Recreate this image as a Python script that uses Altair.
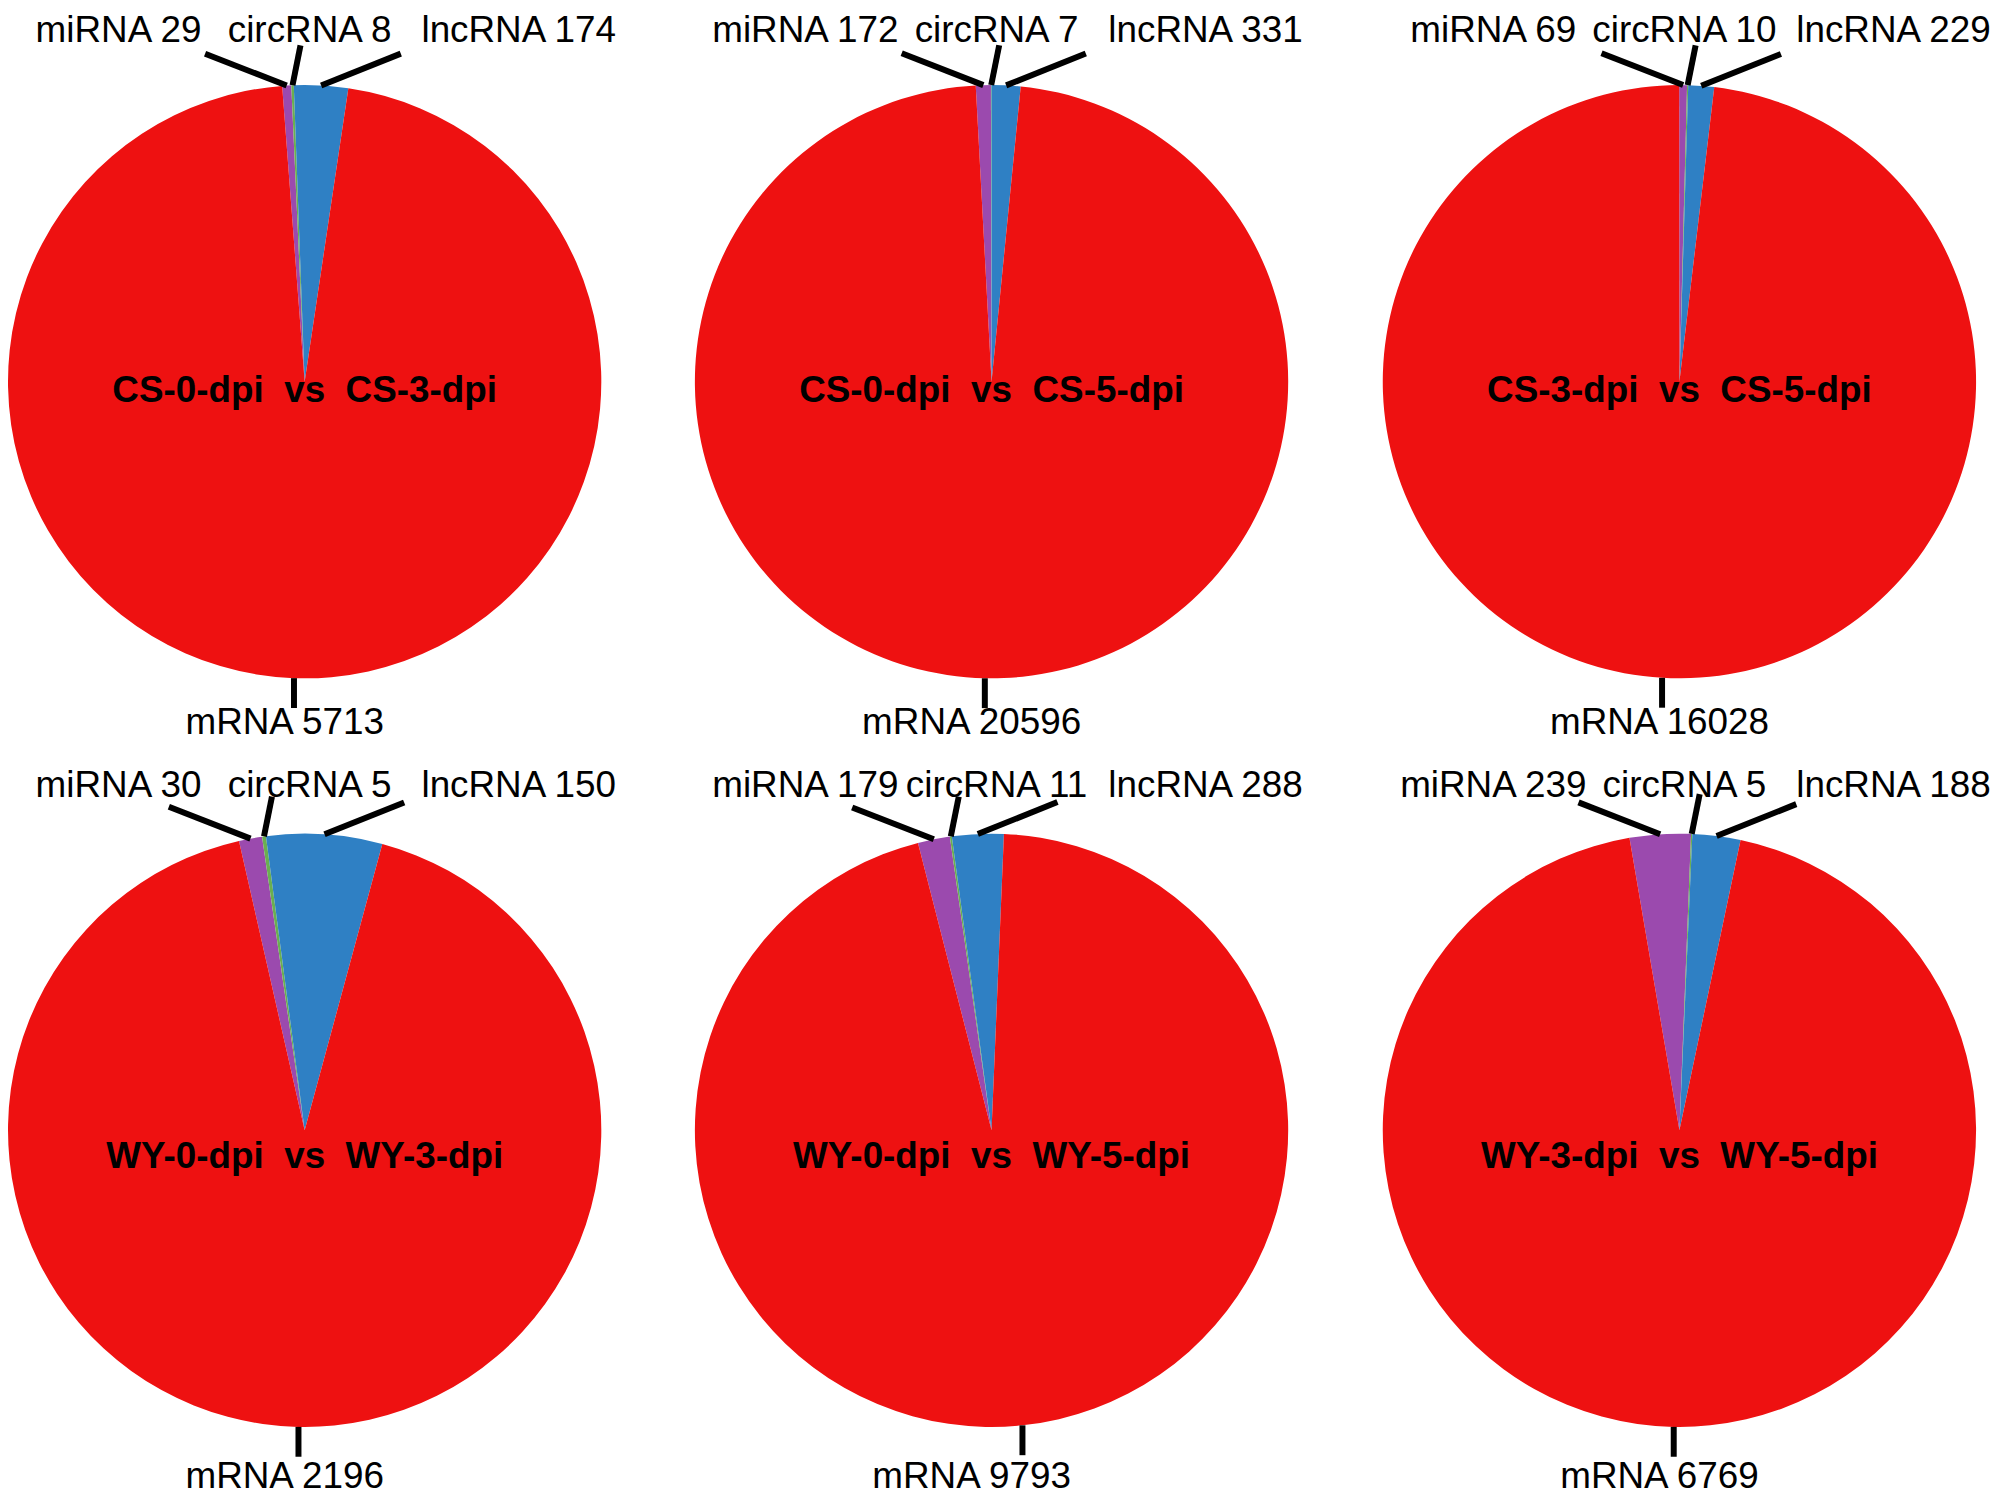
import math
import altair as alt
import pandas as pd

# ---------------- data ----------------
NB = "\u00a0"
comparisons = ["CS-0-dpi  vs  CS-3-dpi", "CS-0-dpi  vs  CS-5-dpi", "CS-3-dpi  vs  CS-5-dpi",
               "WY-0-dpi  vs  WY-3-dpi", "WY-0-dpi  vs  WY-5-dpi", "WY-3-dpi  vs  WY-5-dpi"]
rna_types = ["miRNA", "circRNA", "lncRNA", "mRNA"]
miRNA = [29, 172, 69, 30, 179, 239]
circRNA = [8, 7, 10, 5, 11, 5]
lncRNA = [174, 331, 229, 150, 288, 188]
mRNA = [5713, 20596, 16028, 2196, 9793, 6769]

# ---------------- style / layout ----------------
colors = ["#9B4AAE", "#6AAF50", "#2F80C4", "#EE1111"]
boundary_deg = [-2.1, 0.0, 1.7, -7.5, -7.7, 2.5]   # where circRNA|lncRNA boundary sits
R = 298
col_widths = [688, 690, 600]
row_heights = [742, 740]
centers_x = [296, 298, 299]
centers_y = [370, 380]
title_dy = [-9, -27]
top_label_y = [352, 346]
bottom_label_y = [-343, -348]
label_dx = {"miRNA": -187, "circRNA": 5, "lncRNA": 215, "mRNA": -20}
leader_off = {"miRNA": (-82, 32), "circRNA": (8, 40), "lncRNA": (80, 32), "mRNA": (0, -30)}
FONT = "Liberation Sans, Arial"
LABEL_SIZE = 37
TITLE_SIZE = 37


def panel(i):
    r, c = divmod(i, 3)
    cx, cy = centers_x[c], centers_y[r]
    vals = [miRNA[i], circRNA[i], lncRNA[i], mRNA[i]]
    total = sum(vals)
    start = math.radians(boundary_deg[i]) - 2 * math.pi * (vals[0] + vals[1]) / total

    pie_df = pd.DataFrame({"type": rna_types, "value": vals, "ord": [0, 1, 2, 3]})

    rows = []
    cum = 0
    for t, v in zip(rna_types, vals):
        mid = start + 2 * math.pi * (cum + v / 2) / total
        cum += v
        ex, ey = math.sin(mid), math.cos(mid)
        ox, oy = leader_off[t]
        lx = label_dx[t]
        ly = bottom_label_y[r] if t == "mRNA" else top_label_y[r]
        rows.append({"type": t, "label": f"{t} {v}",
                     "ex": ex, "ey": ey, "sx": ex + ox / R, "sy": ey + oy / R,
                     "lx": lx / R, "ly": ly / R})
    lab_df = pd.DataFrame(rows)
    title_df = pd.DataFrame({"title": [comparisons[i].replace(" ", NB)], "tx": [0.0],
                             "ty": [title_dy[r] / R]})

    xs = alt.Scale(domain=[-1, 1], range=[cx - R, cx + R])
    ys = alt.Scale(domain=[-1, 1], range=[cy + R, cy - R])

    arcs = alt.Chart(pie_df).mark_arc(outerRadius=R).encode(
        theta=alt.Theta("value:Q", stack=True,
                        scale=alt.Scale(range=[start, start + 2 * math.pi])),
        color=alt.Color("type:N", scale=alt.Scale(domain=rna_types, range=colors), legend=None),
        order=alt.Order("ord:Q", sort="ascending"),
        x=alt.value(cx), y=alt.value(cy),
    )
    leaders = alt.Chart(lab_df).mark_rule(color="black", strokeWidth=6, strokeCap="butt").encode(
        x=alt.X("sx:Q", scale=xs, axis=None), y=alt.Y("sy:Q", scale=ys, axis=None),
        x2="ex:Q", y2="ey:Q",
    )
    labels = alt.Chart(lab_df).mark_text(font=FONT, fontSize=LABEL_SIZE, color="black",
                                         align="center", baseline="middle").encode(
        x=alt.X("lx:Q", scale=xs, axis=None), y=alt.Y("ly:Q", scale=ys, axis=None),
        text="label:N",
    )
    title = alt.Chart(title_df).mark_text(font=FONT, fontSize=TITLE_SIZE, fontWeight="bold",
                                          color="black", align="center", baseline="middle").encode(
        x=alt.X("tx:Q", scale=xs, axis=None), y=alt.Y("ty:Q", scale=ys, axis=None),
        text="title:N",
    )
    return alt.layer(arcs, leaders, labels, title).properties(
        width=col_widths[c], height=row_heights[r])


chart = alt.concat(*[panel(i) for i in range(6)], columns=3, spacing=0, bounds="flush").properties(
    padding=0
).configure_view(strokeWidth=0)

chart.save("out.html", embed_options={"renderer": "svg", "actions": False})
